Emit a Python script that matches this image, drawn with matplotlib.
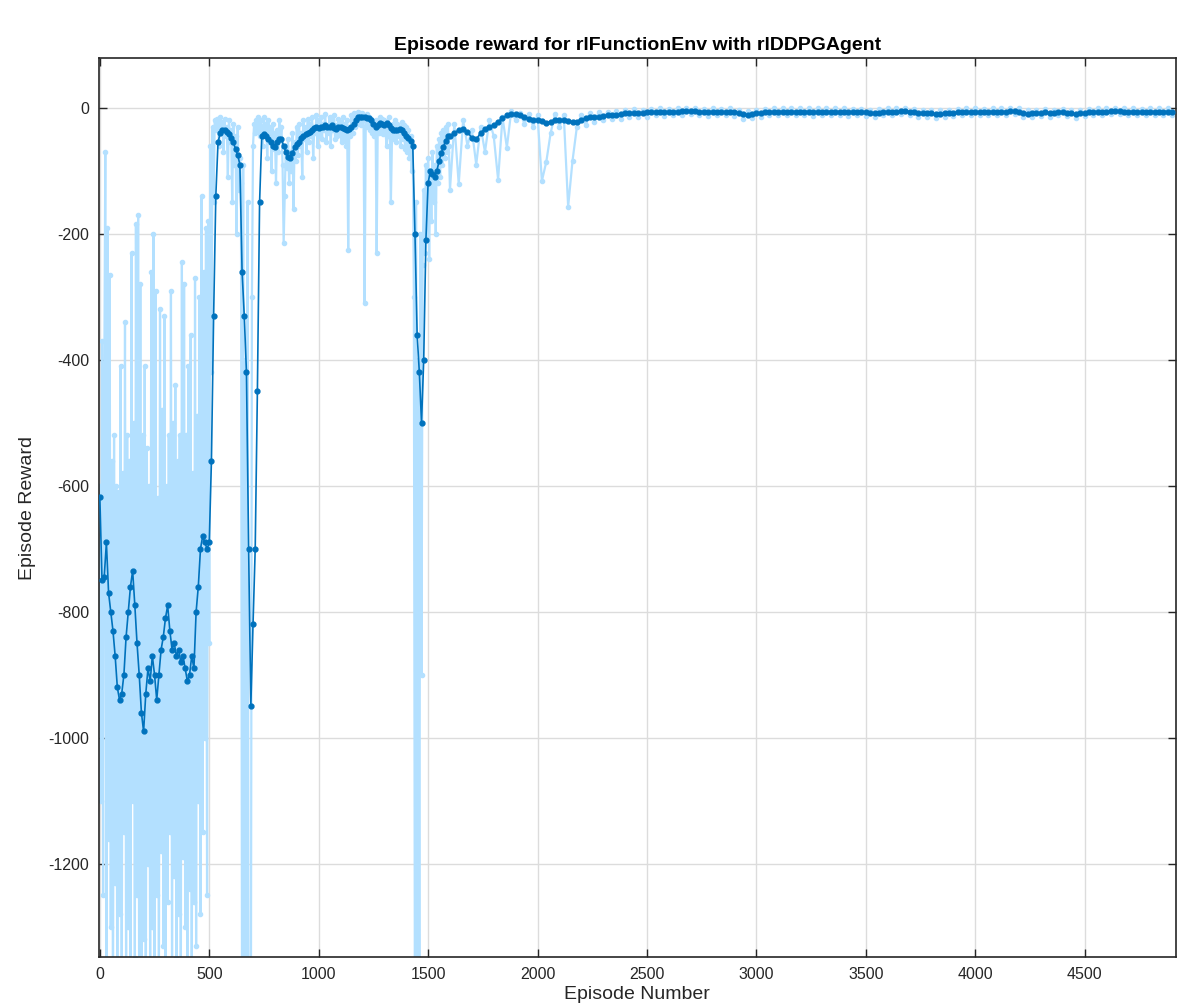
import numpy as np
import matplotlib
matplotlib.use('Agg')
import matplotlib.pyplot as plt

plt.rcParams['font.family'] = ['Liberation Sans', 'DejaVu Sans']
plt.rcParams['axes.unicode_minus'] = False

# episode reward, read every 5 episodes for 0..1595
raw_early = [
    -600, -1100, -370, -1250, -470, -70, -1400, -190, -1160, -265,
    -1300, -560, -1450, -520, -1230, -600, -1500, -610, -1280, -410,
    -1420, -580, -1150, -340, -1380, -520, -1300, -560, -1460, -230,
    -1100, -500, -1350, -185, -1250, -170, -1500, -280, -1400, -520,
    -1320, -410, -1460, -540, -1200, -600, -1380, -260, -1300, -200,
    -1480, -290, -1250, -620, -1400, -320, -1180, -480, -1330, -330,
    -1420, -600, -1260, -520, -1150, -290, -1390, -500, -1220, -440,
    -1350, -560, -1280, -520, -1450, -245, -1190, -280, -1300, -520,
    -1380, -410, -1240, -360, -1420, -580, -1260, -270, -1330, -490,
    -1100, -300, -1280, -140, -1150, -260, -1000, -190, -1250, -180,
    -850, -60, -420, -30, -150, -20, -35, -18, -25, -60,
    -15, -40, -22, -70, -18, -45, -30, -110, -20, -55,
    -35, -150, -25, -90, -45, -200, -30, -130, -80, -120,
    -1500, -90, -1600, -400, -1500, -150, -1600, -1400, -1550, -300,
    -60, -25, -40, -20, -35, -15, -45, -20, -30, -60,
    -15, -40, -25, -80, -20, -55, -30, -100, -25, -65,
    -40, -120, -35, -70, -20, -50, -30, -90, -215, -140,
    -60, -95, -50, -120, -70, -100, -40, -160, -55, -85,
    -30, -75, -25, -60, -40, -110, -20, -50, -30, -70,
    -18, -55, -25, -45, -15, -80, -30, -40, -12, -60,
    -20, -45, -15, -50, -25, -35, -10, -55, -30, -40,
    -15, -60, -20, -35, -12, -50, -28, -45, -18, -40,
    -22, -55, -15, -48, -25, -60, -20, -225, -30, -45,
    -12, -40, -8, -30, -10, -25, -6, -22, -9, -28,
    -8, -20, -310, -30, -10, -25, -14, -35, -18, -40,
    -22, -45, -20, -230, -25, -40, -15, -35, -18, -42,
    -20, -35, -60, -45, -15, -38, -150, -50, -25, -48,
    -20, -55, -25, -45, -30, -60, -22, -50, -28, -65,
    -30, -70, -35, -80, -45, -100, -60, -300, -1500, -150,
    -1600, -400, -1400, -200, -900, -250, -130, -230, -90, -200,
    -80, -240, -100, -180, -70, -150, -90, -200, -60, -120,
    -50, -110, -40, -90, -35, -80, -30, -70, -25, -60,
]

# average reward, read every 10 episodes for 0..1590
avg_early = [
    -617, -750, -745, -690, -770, -800, -830, -870, -920, -940,
    -930, -900, -840, -800, -760, -735, -790, -850, -900, -960,
    -990, -930, -890, -910, -870, -900, -940, -900, -860, -840,
    -810, -790, -830, -860, -850, -870, -860, -880, -870, -890,
    -910, -900, -870, -890, -800, -760, -700, -680, -690, -700,
    -690, -560, -330, -140, -55, -40, -36, -35, -38, -42,
    -48, -55, -65, -75, -90, -260, -330, -420, -700, -950,
    -820, -700, -450, -150, -45, -42, -45, -50, -55, -60,
    -62, -55, -50, -50, -60, -70, -78, -80, -72, -62,
    -58, -55, -48, -45, -42, -40, -38, -36, -32, -30,
    -32, -30, -30, -28, -30, -30, -28, -32, -33, -30,
    -30, -32, -34, -35, -33, -30, -25, -20, -15, -14,
    -14, -15, -16, -16, -20, -25, -30, -28, -24, -25,
    -28, -24, -27, -32, -35, -35, -36, -34, -36, -40,
    -44, -48, -52, -60, -200, -360, -420, -500, -400, -210,
    -120, -100, -105, -110, -100, -85, -72, -62, -52, -45,
]

# every 20 episodes for 1600..4900
raw_late = [
    -130, -25, -121, -20, -60, -35, -90, -30, -70, -20,
    -45, -114, -15, -63, -5, -20, -8, -25, -10, -30,
    -12, -116, -86, -40, -10, -30, -12, -157, -84, -30,
    -12, -28, -8, -22, -7, -20, -6, -18, -5, -17,
    -3, -15, -2, -14, -3, -14, -2, -12, -1, -13,
    -2, -12, -1, -11, 0, -10, -1, -12, -2, -13,
    -1, -12, -2, -11, -1, -13, -3, -17, -5, -16,
    -3, -14, -2, -12, -1, -11, -1, -12, -1, -11,
    0, -12, -1, -13, -1, -11, -1, -12, 0, -12,
    -1, -13, -2, -12, -2, -13, -3, -14, -2, -12,
    -1, -11, 0, -10, -1, -12, -2, -14, -3, -15,
    -4, -16, -4, -14, -3, -13, -2, -12, -1, -12,
    -1, -12, -2, -11, -1, -12, -1, -11, 0, -10,
    -1, -14, -4, -15, -3, -13, -2, -14, -3, -12,
    -2, -13, -4, -16, -3, -13, -2, -12, -1, -11,
    -1, -10, 0, -10, -1, -11, -1, -12, -2, -12,
    -1, -11, -1, -12, -1, -11,
]

avg_late = [
    -45, -40, -35, -33, -38, -48, -50, -40, -33, -30,
    -27, -22, -16, -12, -10, -10, -12, -14, -17, -19,
    -20, -21, -24, -22, -19, -19, -20, -21, -22, -22,
    -19, -16, -15, -14, -14, -13, -12, -11, -11, -10,
    -9, -8, -8, -8, -8, -7, -7, -6, -6, -6,
    -7, -6, -6, -5, -5, -5, -5, -6, -6, -7,
    -6, -6, -7, -6, -6, -7, -8, -10, -11, -10,
    -9, -8, -7, -7, -6, -6, -6, -6, -6, -6,
    -6, -6, -6, -7, -6, -6, -6, -6, -6, -6,
    -6, -7, -7, -7, -7, -7, -8, -8, -8, -7,
    -6, -6, -6, -5, -5, -6, -7, -8, -8, -9,
    -9, -10, -10, -9, -8, -8, -7, -7, -6, -7,
    -6, -7, -7, -6, -6, -7, -6, -6, -5, -5,
    -6, -8, -10, -9, -8, -8, -7, -8, -8, -7,
    -7, -8, -9, -10, -9, -8, -7, -7, -6, -6,
    -6, -5, -5, -5, -6, -6, -6, -6, -7, -7,
    -6, -6, -6, -6, -6, -6,
]

ep_raw_early = np.arange(len(raw_early)) * 5
ep_avg_early = np.arange(len(avg_early)) * 10
ep_late = 1600 + np.arange(len(avg_late)) * 20

ep_raw = np.concatenate([ep_raw_early, ep_late])
reward_raw = np.concatenate([raw_early, raw_late])
ep_avg = np.concatenate([ep_avg_early, ep_late])
reward_avg = np.concatenate([avg_early, avg_late])

fig = plt.figure(figsize=(11.78, 10.06), dpi=100)
ax = fig.add_axes([0.084, 0.0487, 0.914, 0.8936])

ax.plot(ep_raw, reward_raw, color='#B3E0FF', lw=1.6, marker='.', ms=6, zorder=2)
ax.plot(ep_avg, reward_avg, color='#0072BD', lw=1.2, marker='.', ms=7, zorder=3)

ax.set_xlim(-4, 4916)
ax.set_ylim(-1348, 79)
ax.set_xticks(np.arange(0, 4501, 500))
ax.set_yticks(np.arange(-1200, 1, 200))

ax.grid(True, color='#DCDCDC', lw=1.0)
ax.set_axisbelow(True)
for s in ax.spines.values():
    s.set_color('#262626')
    s.set_linewidth(1.2)
ax.tick_params(direction='in', top=True, right=True, length=6, width=1.0,
               color='#262626', labelcolor='#262626', labelsize=11.5, pad=7)

ax.set_title('Episode reward for rlFunctionEnv with rlDDPGAgent',
             fontsize=14, fontweight='bold', pad=6)
ax.set_xlabel('Episode Number', fontsize=14, color='#262626', labelpad=3)
ax.set_ylabel('Episode Reward', fontsize=14, color='#262626', labelpad=9)

fig.savefig('out.png', dpi=100)
